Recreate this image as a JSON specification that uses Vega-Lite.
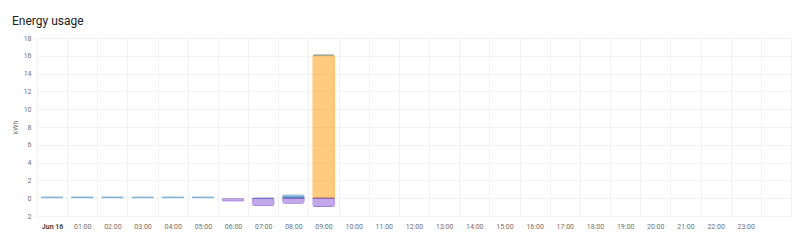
{
  "$schema": "https://vega.github.io/schema/vega-lite/v6.json",
  "autosize": {"type": "none"},
  "width": 754,
  "height": 178,
  "padding": {"left": 37, "top": 38, "right": 9, "bottom": 25},
  "background": "white",
  "title": {
    "text": "Energy usage",
    "anchor": "start",
    "frame": "group",
    "font": "Roboto",
    "fontSize": 12,
    "fontWeight": "normal",
    "color": "#212121",
    "baseline": "alphabetic",
    "offset": -3,
    "dx": -25
  },
  "config": {
    "view": {"stroke": null},
    "font": "Roboto"
  },
  "data": {
    "values": [
      {"hour": "00", "series": "grid", "kwh": 0.2, "ord": 2},
      {"hour": "01", "series": "grid", "kwh": 0.18, "ord": 2},
      {"hour": "02", "series": "grid", "kwh": 0.18, "ord": 2},
      {"hour": "03", "series": "grid", "kwh": 0.2, "ord": 2},
      {"hour": "04", "series": "grid", "kwh": 0.2, "ord": 2},
      {"hour": "05", "series": "grid", "kwh": 0.2, "ord": 2},
      {"hour": "06", "series": "return", "kwh": -0.35, "ord": 3},
      {"hour": "07", "series": "battery", "kwh": 0.08, "ord": 1},
      {"hour": "07", "series": "return", "kwh": -0.85, "ord": 3},
      {"hour": "08", "series": "battery", "kwh": 0.12, "ord": 1},
      {"hour": "08", "series": "grid", "kwh": 0.3, "ord": 2},
      {"hour": "08", "series": "return", "kwh": -0.6, "ord": 3},
      {"hour": "09", "series": "solar", "kwh": 16.1, "ord": 0},
      {"hour": "09", "series": "grid", "kwh": 0.05, "ord": 2},
      {"hour": "09", "series": "return", "kwh": -0.95, "ord": 3}
    ]
  },
  "mark": {
    "type": "bar",
    "width": {"band": 0.73},
    "cornerRadius": 2,
    "fillOpacity": 0.5,
    "strokeWidth": 1
  },
  "encoding": {
    "x": {
      "field": "hour",
      "type": "nominal",
      "scale": {
        "domain": ["00","01","02","03","04","05","06","07","08","09","10","11","12","13","14","15","16","17","18","19","20","21","22","23","24"],
        "paddingInner": 0,
        "paddingOuter": 0
      },
      "axis": {
        "title": null,
        "labelAngle": 0,
        "labelExpr": "!isValid(datum.value) ? '' : (datum.value == '00' ? 'Jun 16' : (datum.value == '24' ? '' : datum.value + ':00'))",
        "labelFontSize": 7,
        "labelColor": {"condition": {"test": "datum.value == '00'", "value": "#444444"}, "value": "#707070"},
        "labelFontWeight": {"condition": {"test": "datum.value == '00'", "value": "bold"}, "value": "normal"},
        "labelPadding": 6,
        "tickBand": "extent",
        "ticks": false,
        "domain": false,
        "grid": true,
        "gridColor": "#f2f2f2",
        "gridWidth": 1
      }
    },
    "y": {
      "field": "kwh",
      "type": "quantitative",
      "stack": "zero",
      "scale": {"domain": [-2, 18], "nice": false},
      "axis": {
        "title": "kWh",
        "titleFontSize": 7,
        "titleFontWeight": "normal",
        "titleColor": "#707070",
        "titlePadding": 5,
        "values": [-2, 0, 2, 4, 6, 8, 10, 12, 14, 16, 18],
        "labelExpr": "abs(datum.value)",
        "labelFontSize": 7,
        "labelColor": "#707070",
        "labelPadding": 6,
        "ticks": false,
        "domain": false,
        "gridColor": "#f2f2f2",
        "gridWidth": 1
      }
    },
    "color": {
      "field": "series",
      "type": "nominal",
      "scale": {"domain": ["solar", "battery", "grid", "return"], "range": ["#ff9800", "#4db6ac", "#488fc2", "#8353d4"]},
      "legend": null
    },
    "stroke": {
      "field": "series",
      "type": "nominal",
      "scale": {"domain": ["solar", "battery", "grid", "return"], "range": ["#ff9800", "#4db6ac", "#488fc2", "#8353d4"]},
      "legend": null
    },
    "order": {"field": "ord", "type": "quantitative"}
  }
}
